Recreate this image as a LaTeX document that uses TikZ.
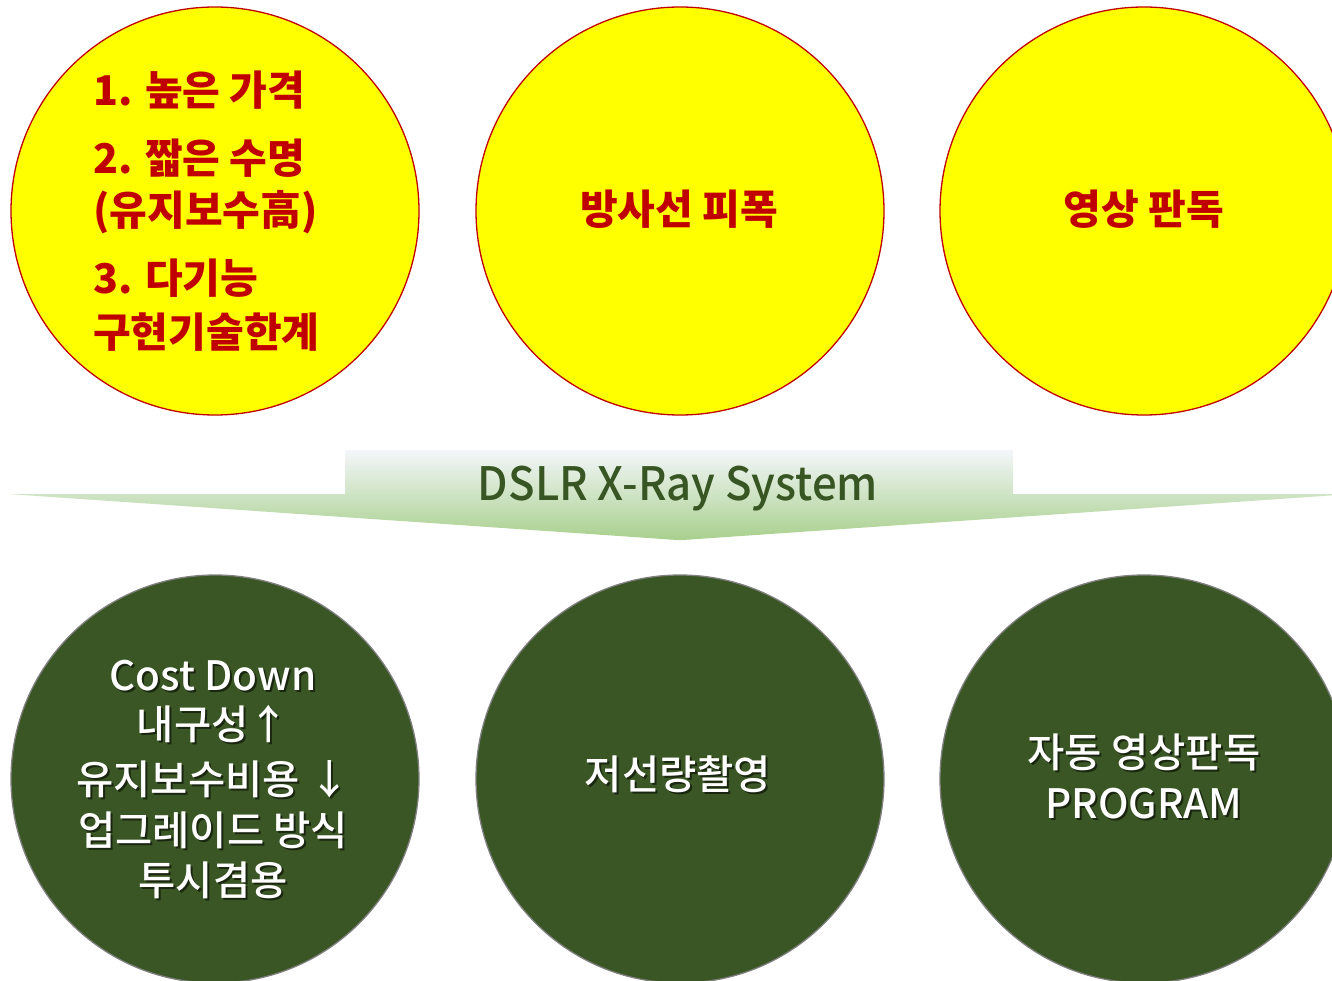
\documentclass[tikz,border=0pt]{standalone}
\usepackage{fontspec}
\setmainfont{Noto Sans CJK KR}
\newfontfamily\kr{Noto Sans CJK KR}
\newfontfamily\krm{Noto Sans CJK KR Medium}
\definecolor{cred}{RGB}{192,0,0}
\definecolor{cyel}{RGB}{255,255,0}
\definecolor{cgreen}{RGB}{58,86,36}
\definecolor{cgtext}{RGB}{55,86,35}
\definecolor{cgray}{RGB}{128,128,128}
\definecolor{btop}{RGB}{244,246,250}
\definecolor{bmid}{RGB}{214,233,204}
\definecolor{bbot}{RGB}{168,208,141}
\tikzset{
  ycirc/.style={circle, draw=cred, line width=1.3pt, fill=cyel, minimum size=408pt, inner sep=0pt},
  gcirc/.style={circle, draw=cgray, line width=1.3pt, fill=cgreen, minimum size=408pt, inner sep=0pt},
  redtxt/.style={text=cred, font=\kr\bfseries\fontsize{41}{46}\selectfont, inner sep=0pt},
  whtxt/.style={text=white, font=\krm\fontsize{40.5}{46}\selectfont, inner sep=0pt, anchor=base},
  shtxt/.style={text=black, text opacity=0.55, font=\krm\fontsize{40.5}{46}\selectfont, inner sep=0pt, anchor=base},
}
\begin{document}
\begin{tikzpicture}[x=1pt,y=-1pt]
\useasboundingbox (0,0) rectangle (1332,981);
\clip (0,0) rectangle (1332,981);
% top circles
\node[ycirc] (c1) at (215,211) {};
\node[ycirc] (c2) at (680,211) {};
\node[ycirc] (c3) at (1144,211) {};
% top-left texts
\node[redtxt, anchor=base west] (l1) at (93,106) {1. 높은 가격};
\node[redtxt, anchor=base west] (l2) at (93,174) {2. 짧은 수명};
\node[redtxt, anchor=base west] (l3) at (93,226) {(유지보수高)};
\node[redtxt, anchor=base west] (l4) at (93,294) {3. 다기능};
\node[redtxt, anchor=base west] (l5) at (93,347) {구현기술한계};
\node[redtxt, anchor=base] (m1) at (679,225) {방사선 피폭};
\node[redtxt, anchor=base] (r1) at (1144,225) {영상 판독};
% banner
\shade[top color=btop, middle color=bmid, bottom color=bbot]
  (8,494) -- (345,494) -- (345,450) -- (1013,450) -- (1013,494) -- (1352,494)
  -- (683,540) -- (677,540) -- cycle;
\node[text=cgtext, font=\krm\fontsize{46}{50}\selectfont, inner sep=0pt, anchor=base] (ban) at (678,500) {\scalebox{0.95}[1]{DSLR X-Ray System}};
% bottom circles
\node[gcirc] (d1) at (215,779) {};
\node[gcirc] (d2) at (680,779) {};
\node[gcirc] (d3) at (1144,779) {};
% bottom-left texts
\node[shtxt] (s1) at (215,692) {Cost Down};
\node[whtxt] (w1) at (213,690) {Cost Down};
\node[shtxt] (s2) at (215,741) {내구성↑};
\node[whtxt] (w2) at (213,739) {내구성↑};
\node[shtxt] (s3) at (215,796) {유지보수비용 ↓};
\node[whtxt] (w3) at (213,794) {유지보수비용 ↓};
\node[shtxt] (s4) at (215,847) {업그레이드 방식};
\node[whtxt] (w4) at (213,845) {업그레이드 방식};
\node[shtxt] (s5) at (215,897) {투시겸용};
\node[whtxt] (w5) at (213,895) {투시겸용};
% bottom-middle
\node[shtxt] (s6) at (680,791) {저선량촬영};
\node[whtxt] (w6) at (678,789) {저선량촬영};
% bottom-right
\node[shtxt] (s7) at (1146,769) {자동 영상판독};
\node[whtxt] (w7) at (1144,767) {자동 영상판독};
\node[shtxt] (s8) at (1146,820) {PROGRAM};
\node[whtxt] (w8) at (1144,818) {PROGRAM};
\end{tikzpicture}
\end{document}
